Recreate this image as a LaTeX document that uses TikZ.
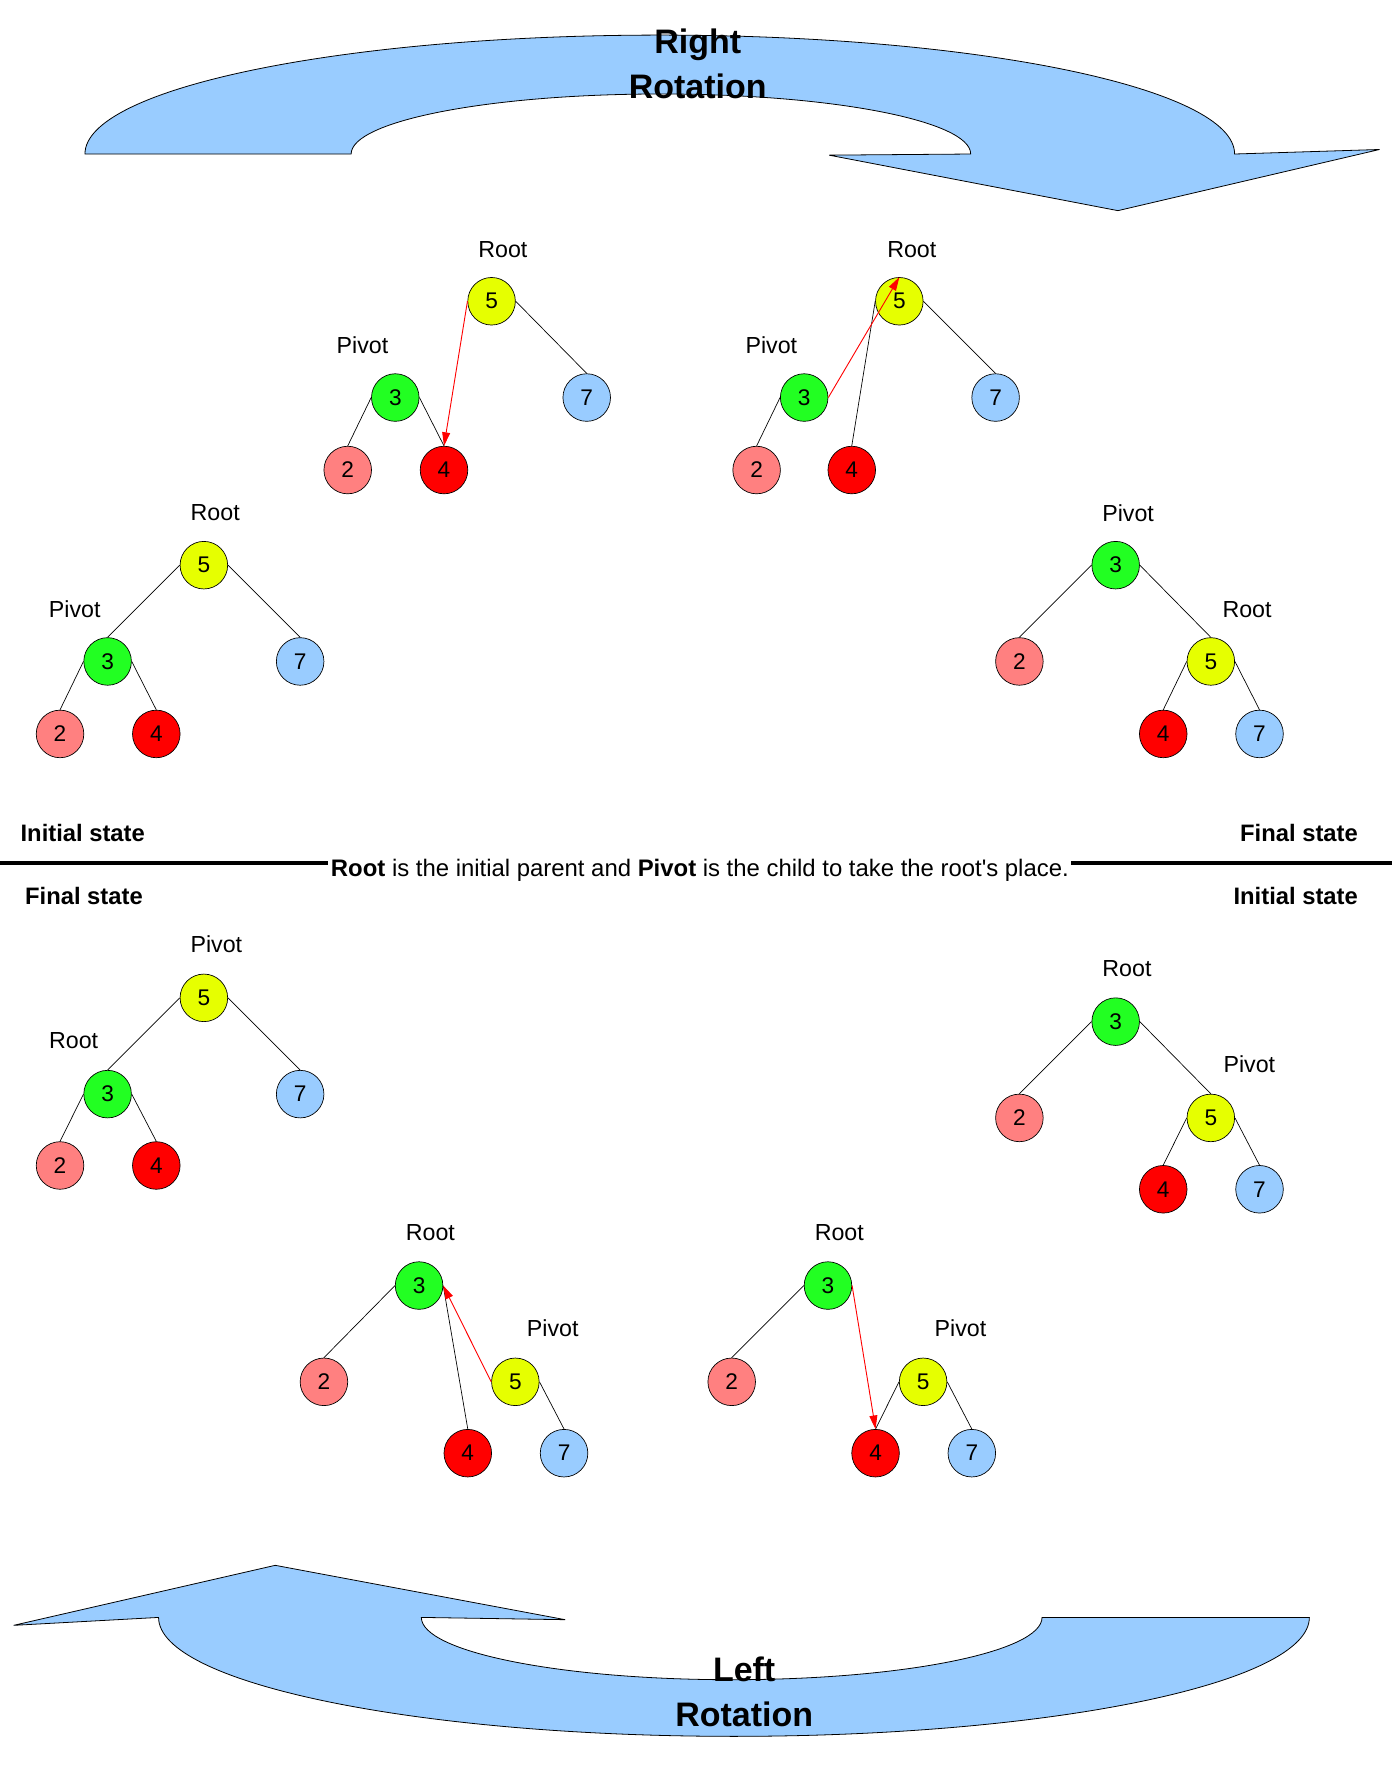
\documentclass[tikz,border=0pt]{standalone}
\usepackage{fontspec}
\setmainfont{Liberation Sans}
\usetikzlibrary{arrows.meta}
\definecolor{cyel}{HTML}{E6FF00}
\definecolor{cgrn}{HTML}{22FF22}
\definecolor{cpink}{HTML}{FF8080}
\definecolor{cred}{HTML}{FF0000}
\definecolor{cblue}{HTML}{99CCFF}
\definecolor{arrowblue}{HTML}{99CCFF}
\begin{document}
\begin{tikzpicture}[x=1pt,y=1pt,
  tn/.style={circle,draw=black,line width=0.6pt,minimum size=42pt,inner sep=0pt,font=\fontsize{20}{23}\selectfont},
  yel/.style={tn,fill=cyel},
  grn/.style={tn,fill=cgrn},
  pnk/.style={tn,fill=cpink},
  rd/.style={tn,fill=cred},
  blu/.style={tn,fill=cblue},
  lbl/.style={font=\fontsize{20.5}{24}\selectfont,inner sep=0pt},
  st/.style={font=\fontsize{21}{24}\selectfont\bfseries,inner sep=0pt},
  ttl/.style={font=\fontsize{30}{34}\selectfont\bfseries,inner sep=0pt,anchor=base},
  edge/.style={draw=black,line width=0.6pt},
  redarr/.style={draw=red,line width=0.8pt,-{Triangle[length=12pt,width=7pt]}},
  bigarrow/.style={fill=arrowblue,draw=black,line width=0.7pt}]
\useasboundingbox (0,0) rectangle (1229,1568);

% ---- top arrow (Right Rotation)
\draw[bigarrow] (75,1432) -- (310,1432) arc[start angle=180,end angle=0,x radius=273.5,y radius=53]
  -- (732,1431) -- (987,1382) -- (1218,1436) -- (1090,1432)
  arc[start angle=0,end angle=180,x radius=507.5,y radius=105] -- cycle;
\node[ttl] (tR1) at (616,1521) {Right};
\node[ttl] (tR2) at (616,1481) {Rotation};

% ---- bottom arrow (Left Rotation)
\draw[bigarrow] (1156,140) -- (920,140) arc[start angle=0,end angle=-180,x radius=274,y radius=55]
  -- (499,138) -- (243,186) -- (12,133) -- (140,140)
  arc[start angle=180,end angle=360,x radius=508,y radius=105] -- cycle;
\node[ttl] (tL1) at (657,83) {Left};
\node[ttl] (tL2) at (657,44) {Rotation};

% ---- Tree A (top-left, initial)
\node[yel] (a5) at (180,1069) {5};
\node[grn] (a3) at (95,984) {3};
\node[blu] (a7) at (265,984) {7};
\node[pnk] (a2) at (53,920) {2};
\node[rd]  (a4) at (138,920) {4};
\node[lbl] (aR) at (190,1115) {Root};
\node[lbl] (aP) at (66,1030) {Pivot};
\draw[edge] (a5.west) -- (a3.north);
\draw[edge] (a5.east) -- (a7.north);
\draw[edge] (a3.west) -- (a2.north);
\draw[edge] (a3.east) -- (a4.north);

% ---- Tree B
\node[yel] (b5) at (434,1302) {5};
\node[grn] (b3) at (349,1217) {3};
\node[blu] (b7) at (518,1217) {7};
\node[pnk] (b2) at (307,1153) {2};
\node[rd]  (b4) at (392,1153) {4};
\node[lbl] (bR) at (444,1348) {Root};
\node[lbl] (bP) at (320,1263) {Pivot};
\draw[edge] (b5.east) -- (b7.north);
\draw[edge] (b3.west) -- (b2.north);
\draw[edge] (b3.east) -- (b4.north);
\draw[redarr] (b5.west) -- (b4.north);

% ---- Tree C
\node[yel] (c5) at (794,1302) {5};
\node[grn] (c3) at (710,1217) {3};
\node[blu] (c7) at (879,1217) {7};
\node[pnk] (c2) at (668,1153) {2};
\node[rd]  (c4) at (752,1153) {4};
\node[lbl] (cR) at (805,1348) {Root};
\node[lbl] (cP) at (681,1263) {Pivot};
\draw[edge] (c5.east) -- (c7.north);
\draw[edge] (c3.west) -- (c2.north);
\draw[edge] (c5.west) -- (c4.north);
\draw[redarr] (c3.east) -- (c5.north);

% ---- Tree D (top-right, final)
\node[grn] (d3) at (985,1069) {3};
\node[pnk] (d2) at (900,984) {2};
\node[yel] (d5) at (1069,984) {5};
\node[rd]  (d4) at (1027,920) {4};
\node[blu] (d7) at (1112,920) {7};
\node[lbl] (dP) at (996,1115) {Pivot};
\node[lbl] (dR) at (1101,1030) {Root};
\draw[edge] (d3.west) -- (d2.north);
\draw[edge] (d3.east) -- (d5.north);
\draw[edge] (d5.west) -- (d4.north);
\draw[edge] (d5.east) -- (d7.north);

% ---- middle captions
\node[st,anchor=base west] (s1) at (18,825) {Initial state};
\node[st,anchor=base east] (s2) at (1199,825) {Final state};
\node[font=\fontsize{21.1}{24}\selectfont,inner ysep=0pt,inner xsep=2pt,anchor=base west] (cap) at (290,794) {\textbf{Root} is the initial parent and \textbf{Pivot} is the child to take the root\textquotesingle s place.};
\coordinate (lineL) at (0,806);
\coordinate (lineR) at (1229,806);
\draw[line width=3.5pt] (lineL) -- (lineL -| cap.west);
\draw[line width=3.5pt] (lineR -| cap.east) -- (lineR);
\node[st,anchor=base west] (s3) at (22,769) {Final state};
\node[st,anchor=base east] (s4) at (1199,769) {Initial state};

% ---- Tree E (bottom-left, final)
\node[yel] (e5) at (180,687) {5};
\node[grn] (e3) at (95,602) {3};
\node[blu] (e7) at (265,602) {7};
\node[pnk] (e2) at (53,539) {2};
\node[rd]  (e4) at (138,539) {4};
\node[lbl] (eP) at (191,734) {Pivot};
\node[lbl] (eR) at (65,649) {Root};
\draw[edge] (e5.west) -- (e3.north);
\draw[edge] (e5.east) -- (e7.north);
\draw[edge] (e3.west) -- (e2.north);
\draw[edge] (e3.east) -- (e4.north);

% ---- Tree F (bottom-right, initial)
\node[grn] (f3) at (985,666) {3};
\node[pnk] (f2) at (900,581) {2};
\node[yel] (f5) at (1069,581) {5};
\node[rd]  (f4) at (1027,518) {4};
\node[blu] (f7) at (1112,518) {7};
\node[lbl] (fR) at (995,713) {Root};
\node[lbl] (fP) at (1103,628) {Pivot};
\draw[edge] (f3.west) -- (f2.north);
\draw[edge] (f3.east) -- (f5.north);
\draw[edge] (f5.west) -- (f4.north);
\draw[edge] (f5.east) -- (f7.north);

% ---- Tree G
\node[grn] (g3) at (370,433) {3};
\node[pnk] (g2) at (286,348) {2};
\node[yel] (g5) at (455,348) {5};
\node[rd]  (g4) at (413,285) {4};
\node[blu] (g7) at (498,285) {7};
\node[lbl] (gR) at (380,480) {Root};
\node[lbl] (gP) at (488,395) {Pivot};
\draw[edge] (g3.west) -- (g2.north);
\draw[edge] (g5.east) -- (g7.north);
\draw[edge] (g4.north) -- (g3.east);
\draw[redarr] (g5.west) -- (g3.east);

% ---- Tree H
\node[grn] (h3) at (731,433) {3};
\node[pnk] (h2) at (646,348) {2};
\node[yel] (h5) at (815,348) {5};
\node[rd]  (h4) at (773,285) {4};
\node[blu] (h7) at (858,285) {7};
\node[lbl] (hR) at (741,480) {Root};
\node[lbl] (hP) at (848,395) {Pivot};
\draw[edge] (h3.west) -- (h2.north);
\draw[edge] (h5.west) -- (h4.north);
\draw[edge] (h5.east) -- (h7.north);
\draw[redarr] (h3.east) -- (h4.north);
\end{tikzpicture}
\end{document}
